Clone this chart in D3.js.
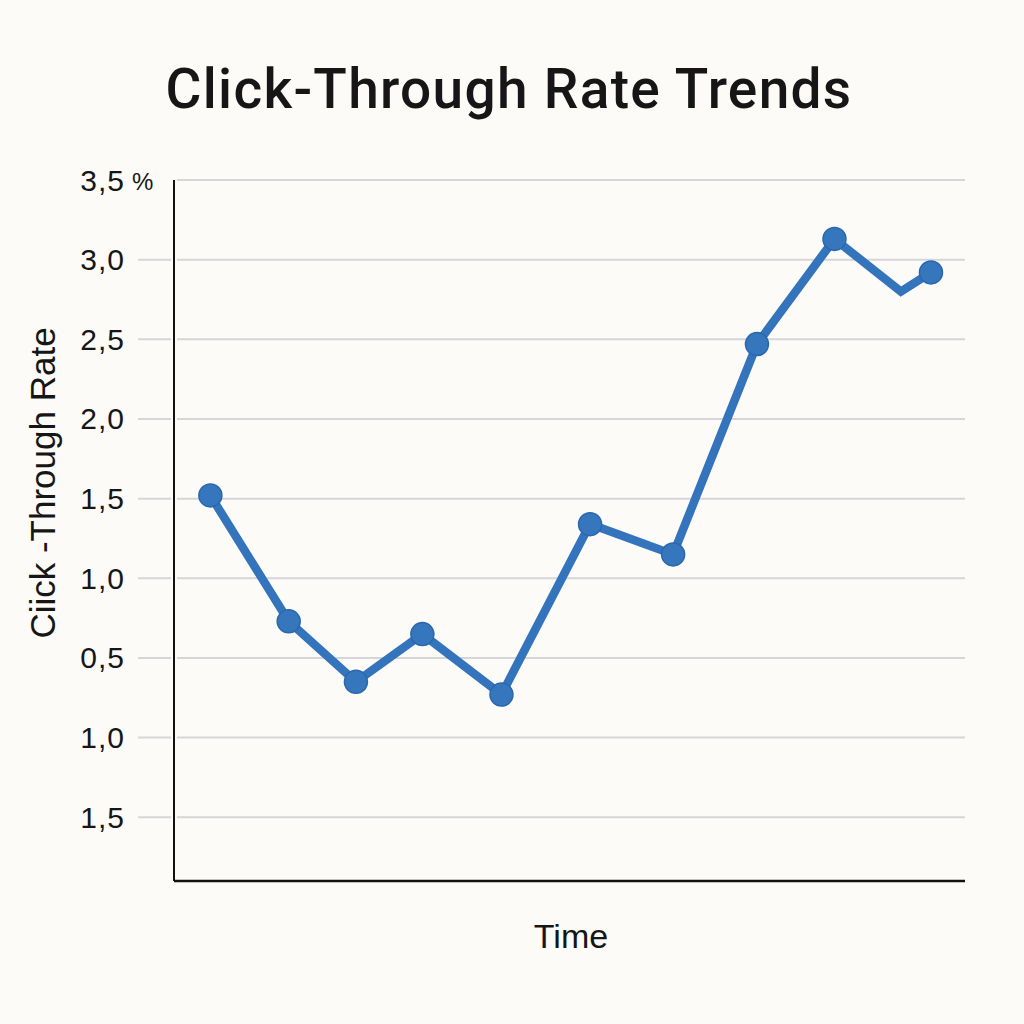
<!DOCTYPE html>
<html>
<head>
<meta charset="utf-8">
<script src="https://cdn.jsdelivr.net/npm/d3@7"></script>
<style>
  body { margin: 0; background: #fcfbf7; }
  text { font-family: "Liberation Sans", Arial, sans-serif; fill: #161616; }
</style>
</head>
<body>
<div id="chart"></div>
<script>
// data
var timePoints = [0.46, 1.45, 2.30, 3.14, 4.14, 5.26, 6.31, 7.37, 8.35, 9.19, 9.57];
var ctrValues = [1.52, 0.73, 0.35, 0.65, 0.27, 1.34, 1.15, 2.47, 3.13, 2.80, 2.92];
var hasMarker = [true, true, true, true, true, true, true, true, true, false, true];
var tickValues = [3.5, 3.0, 2.5, 2.0, 1.5, 1.0, 0.5, 0.0, -0.5];
var tickLabels = ["3,5", "3,0", "2,5", "2,0", "1,5", "1,0", "0,5", "1,0", "1,5"];

var svgWidth = 1024;
var svgHeight = 1024;

var margin = {
  top: 180,
  right: 59,
  bottom: 143,
  left: 174
};

var width = svgWidth - margin.left - margin.right;
var height = svgHeight - margin.top - margin.bottom;

var svg = d3.select("#chart")
  .append("svg")
  .attr("width", svgWidth)
  .attr("height", svgHeight);

svg.append("rect")
  .attr("width", svgWidth)
  .attr("height", svgHeight)
  .attr("fill", "#fcfbf7");

var chartGroup = svg.append("g")
  .attr("transform", `translate(${margin.left}, ${margin.top})`);

var xScale = d3.scaleLinear()
  .domain([0, 10])
  .range([0, width]);

var yScale = d3.scaleLinear()
  .domain([-0.9, 3.5])
  .range([height, 0]);

// gridlines: a short stub left of the axis, then the long line
tickValues.forEach(function(v, i) {
  var y = yScale(v);
  if (i > 0) {
    chartGroup.append("line")
      .attr("x1", -36).attr("x2", -3)
      .attr("y1", y).attr("y2", y)
      .attr("stroke", "#d6d6d9")
      .attr("stroke-width", 2);
  }
  chartGroup.append("line")
    .attr("x1", 3).attr("x2", width)
    .attr("y1", y).attr("y2", y)
    .attr("stroke", "#d6d6d9")
    .attr("stroke-width", 2);
});

// tick labels
chartGroup.selectAll(".tickLabel")
  .data(tickValues)
  .enter()
  .append("text")
  .attr("class", "tickLabel")
  .attr("x", -49)
  .attr("y", d => yScale(d))
  .attr("dy", "0.35em")
  .attr("text-anchor", "end")
  .style("font-size", "30px")
  .style("letter-spacing", "1px")
  .text((d, i) => tickLabels[i]);

chartGroup.append("text")
  .attr("x", -42)
  .attr("y", yScale(3.5))
  .attr("dy", "0.4em")
  .style("font-size", "24px")
  .text("%");

// axes
chartGroup.append("line")
  .attr("x1", 0).attr("x2", 0)
  .attr("y1", 0).attr("y2", height)
  .attr("stroke", "#111")
  .attr("stroke-width", 2);

chartGroup.append("line")
  .attr("x1", 0).attr("x2", width)
  .attr("y1", height).attr("y2", height)
  .attr("stroke", "#111")
  .attr("stroke-width", 2.5);

// line and markers
var points = ctrValues.map((v, i) => ({ t: timePoints[i], v: v, m: hasMarker[i] }));

var line = d3.line()
  .x(d => xScale(d.t))
  .y(d => yScale(d.v));

chartGroup.append("path")
  .datum(points)
  .attr("d", line)
  .attr("fill", "none")
  .attr("stroke", "#3474bc")
  .attr("stroke-width", 8.5)
  .attr("stroke-linejoin", "miter");

chartGroup.selectAll("circle")
  .data(points.filter(d => d.m))
  .enter()
  .append("circle")
  .attr("cx", d => xScale(d.t))
  .attr("cy", d => yScale(d.v))
  .attr("r", 11.5)
  .attr("fill", "#3576bd")
  .attr("stroke", "#2a67ae")
  .attr("stroke-width", 1.5);

// titles
svg.append("text")
  .attr("x", 509)
  .attr("y", 108)
  .attr("text-anchor", "middle")
  .style("font-family", "Roboto, 'Liberation Sans', sans-serif")
  .style("font-size", "55px")
  .style("font-weight", "500")
  .style("letter-spacing", "1.3px")
  .text("Click-Through Rate Trends");

svg.append("text")
  .attr("transform", "rotate(-90)")
  .attr("x", -483)
  .attr("y", 55)
  .attr("text-anchor", "middle")
  .style("font-size", "35px")
  .text("Ciick -Through Rate");

svg.append("text")
  .attr("x", 571)
  .attr("y", 948)
  .attr("text-anchor", "middle")
  .style("font-size", "34px")
  .text("Time");
</script>
</body>
</html>
